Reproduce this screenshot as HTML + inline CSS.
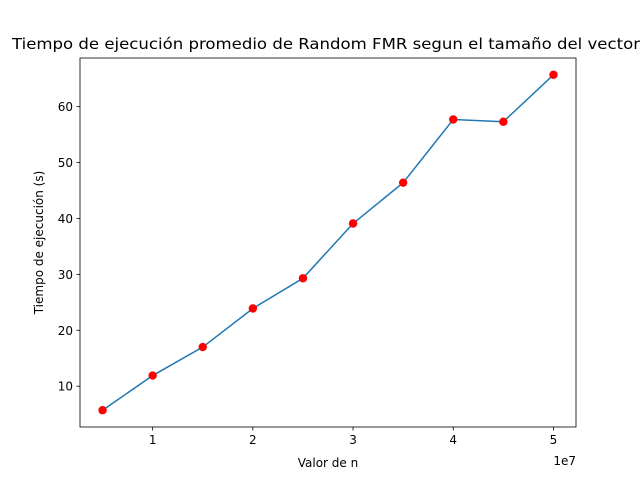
<!DOCTYPE html>
<html><head><meta charset="utf-8"><style>
body{margin:0;background:#fff;overflow:hidden;}
svg{display:block;font-family:"DejaVu Sans","Liberation Sans",sans-serif;}
</style></head><body>
<svg id="chart" width="640" height="480" viewBox="0 0 640 480" xmlns="http://www.w3.org/2000/svg">
<rect width="640" height="480" fill="#fff"/>
<text x="12" y="49" font-size="14.8" textLength="628" lengthAdjust="spacingAndGlyphs" fill="#000">Tiempo de ejecución promedio de Random FMR segun el tamaño del vector</text>
<g id="plot"></g>
<rect x="80" y="58" width="496" height="369" fill="none" stroke="#000" stroke-width="0.8"/>
<text x="328" y="467" font-size="12" text-anchor="middle">Valor de n</text>
<text x="576" y="465" font-size="12" text-anchor="end">1e7</text>
<text transform="translate(43,242.5) rotate(-90)" font-size="12" text-anchor="middle">Tiempo de ejecución (s)</text>
</svg>
<script>
const nValues=[0.5,1,1.5,2,2.5,3,3.5,4,4.5,5];
const times=[5.7,11.9,17.0,23.9,29.3,39.1,46.4,57.7,57.3,65.7];
const xTicks=[1,2,3,4,5];
const yTicks=[10,20,30,40,50,60];
const NS="http://www.w3.org/2000/svg";
const X0=80,X1=576,Y0=427,Y1=58;
const xmin=0.275,xmax=5.225,ymin=2.7,ymax=68.7;
function sx(v){return X0+(v-xmin)/(xmax-xmin)*(X1-X0);}
function sy(v){return Y0-(v-ymin)/(ymax-ymin)*(Y0-Y1);}
const g=document.getElementById('plot');
function mk(t,a){const e=document.createElementNS(NS,t);for(const k in a)e.setAttribute(k,a[k]);g.appendChild(e);return e;}
xTicks.forEach(t=>{
 const l=mk('line',{x1:sx(t),x2:sx(t),y1:Y0,y2:Y0+3.5,stroke:'#000','stroke-width':0.8});
 
 
 const tx=mk('text',{x:sx(t),y:Y0+17,'font-size':12,'text-anchor':'middle'});tx.textContent=t;
 
 
});
yTicks.forEach(t=>{
 const l=mk('line',{x1:X0-3.5,x2:X0,y1:sy(t),y2:sy(t),stroke:'#000','stroke-width':0.8});
 
 
 const tx=mk('text',{x:X0-7,y:sy(t)+4.5,'font-size':12,'text-anchor':'end'});tx.textContent=t;
 
 
});
const p=mk('polyline',{points:nValues.map((n,i)=>sx(n)+','+sy(times[i])).join(' '),fill:'none',stroke:'#1f77b4','stroke-width':1.5});


nValues.forEach((n,i)=>{
 const c=mk('circle',{cx:sx(n),cy:sy(times[i]),r:4.2,fill:'#ff0000'});
 
 
});
</script>
</body></html>
